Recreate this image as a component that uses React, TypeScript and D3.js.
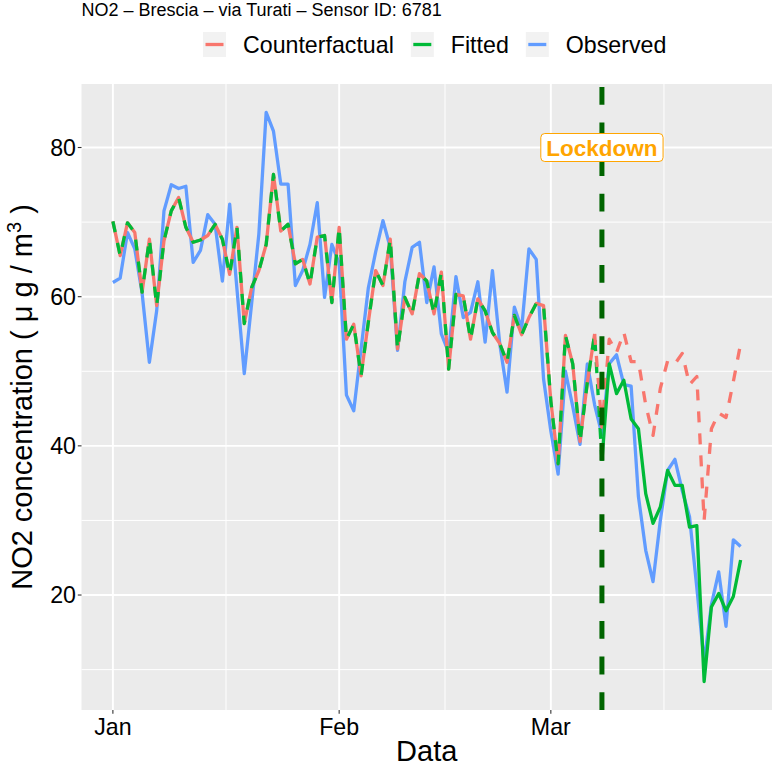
import React from 'react';
import * as d3 from 'd3';

// ---------------- DATA ----------------
const START_DATE = '2020-01-01';
const LOCKDOWN_DATE = '2020-03-08';
const LOCKDOWN_LABEL = 'Lockdown';
const LOCKDOWN_LABEL_VALUE = 80;

const observed = [
  61.9, 62.5, 68.6, 66.4, 60.5, 51.2, 58.1, 71.5, 75.0, 74.5,
  74.8, 64.6, 66.2, 71.0, 69.7, 62.1, 72.4, 61.0, 49.7, 59.0,
  68.4, 84.7, 82.2, 75.1, 75.1, 61.5, 63.5, 67.0, 72.6, 59.9,
  67.0, 64.5, 46.8, 44.7, 53.0, 61.2, 66.0, 70.2, 66.6, 52.8,
  62.0, 66.6, 67.3, 59.2, 64.0, 55.0, 52.5, 62.7, 57.2, 57.9,
  62.0, 53.9, 63.5, 53.7, 47.2, 58.6, 55.7, 66.4, 65.0, 49.0,
  42.0, 36.2, 50.0, 45.3, 40.2, 51.0, 45.5, 41.5, 51.0, 52.2,
  48.2, 48.0, 33.2, 26.0, 21.8, 30.0, 36.7, 38.2, 34.0, 30.5,
  21.0, 11.0, 18.7, 23.1, 15.8, 27.4, 26.5,
];

const fitted = [
  70.1, 65.5, 69.9, 68.6, 60.6, 67.7, 58.8, 67.5, 71.5, 73.3,
  69.3, 67.3, 67.6, 68.2, 69.7, 67.7, 63.0, 69.3, 56.4, 61.2,
  63.5, 67.0, 76.4, 68.8, 69.7, 64.4, 65.0, 61.7, 68.0, 68.2,
  59.2, 69.3, 54.3, 56.3, 49.4, 56.6, 63.5, 61.5, 67.7, 53.0,
  59.9, 57.7, 63.1, 62.1, 57.7, 63.3, 50.3, 60.3, 60.1, 54.3,
  59.7, 58.1, 55.2, 53.7, 51.2, 57.5, 54.9, 57.2, 59.1, 58.8,
  46.0, 37.6, 54.8, 51.0, 40.6, 48.5, 55.0,
  38.0, 51.0, 47.0, 48.8, 43.6, 42.3, 33.6, 29.6, 31.8, 36.7,
  34.7, 34.7, 29.1, 29.3, 8.4, 18.4, 20.2, 17.9, 19.8, 24.7,
];

const counterfactual = [
  70.1, 65.5, 69.9, 68.6, 60.6, 67.7, 58.8, 67.5, 71.5, 73.3,
  69.3, 67.3, 67.6, 68.2, 69.7, 67.7, 63.0, 69.3, 56.4, 61.2,
  63.5, 67.0, 76.4, 68.8, 69.7, 64.4, 65.0, 61.7, 68.0, 68.2,
  59.2, 69.3, 54.3, 56.3, 49.4, 56.6, 63.5, 61.5, 67.7, 53.0,
  59.9, 57.7, 63.1, 62.1, 57.7, 63.3, 50.3, 60.3, 60.1, 54.3,
  59.7, 58.1, 55.2, 53.7, 51.2, 57.5, 54.9, 57.2, 59.1, 58.8,
  46.0, 37.6, 54.8, 51.0, 40.6, 48.5, 55.0,
  42.5, 54.3, 52.5, 55.2, 51.3, 51.3, 45.5, 41.4, 47.7, 51.4,
  51.0, 52.4, 48.2, 49.3, 30.0, 42.3, 44.4, 43.8, 48.6, 53.7,
];

const yTickValues = [20, 40, 60, 80];
const yMinorValues = [10, 30, 50, 70];
const xTickDates = ['2020-01-01', '2020-02-01', '2020-03-01'];
const xTickLabels = ['Jan', 'Feb', 'Mar'];
const xMinorDates = ['2020-01-16T12:00:00Z', '2020-02-15T12:00:00Z', '2020-03-16T12:00:00Z'];

const seriesNames = ['Counterfactual', 'Fitted', 'Observed'];
const seriesColors = ['#F8766D', '#00BA38', '#619CFF'];

const TITLE = 'NO2 – Brescia – via Turati – Sensor ID: 6781';
const X_TITLE = 'Data';

// ---------------- LAYOUT ----------------
const W = 772;
const H = 767;
const P = { left: 81.5, right: 772, top: 84, bottom: 710 };
const FONT = "'Liberation Sans', Arial, Helvetica, sans-serif";
const LW = 3.3;
const DASH = '11 11';

function measure(text: string, size: number, weight = 'normal') {
  const c = document.createElement('canvas').getContext('2d');
  if (!c) return text.length * size * 0.5;
  c.font = `${weight} ${size}px ${FONT}`;
  return c.measureText(text).width;
}

export default function App() {
  const start = new Date(START_DATE + 'T00:00:00Z');
  const dates = observed.map((_, i) => d3.utcDay.offset(start, i));
  const lockDate = new Date(LOCKDOWN_DATE + 'T00:00:00Z');
  const lockIdx = dates.findIndex((d) => +d === +lockDate);

  const t0 = +dates[0];
  const t1 = +dates[dates.length - 1];
  const xp = (t1 - t0) * 0.05;
  const x = d3.scaleUtc().domain([new Date(t0 - xp), new Date(t1 + xp)]).range([P.left, P.right]);

  const all = [...observed, ...fitted, ...counterfactual];
  const [vmin, vmax] = d3.extent(all) as [number, number];
  const yp = (vmax - vmin) * 0.05;
  const y = d3.scaleLinear().domain([vmin - yp, vmax + yp]).range([P.bottom, P.top]);

  const line = d3
    .line<[Date, number]>()
    .x((d) => x(d[0]))
    .y((d) => y(d[1]));

  const pts = (arr: number[], a: number, b: number) =>
    arr.slice(a, b + 1).map((v, i) => [dates[a + i], v] as [Date, number]);

  const n = observed.length - 1;
  const obsPath = line(pts(observed, 0, n)) || '';
  const cfPre = line(pts(counterfactual, 0, lockIdx - 1)) || '';
  const cfPost = line(pts(counterfactual, lockIdx - 1, n)) || '';
  const fitPre = line(pts(fitted, 0, lockIdx)) || '';
  const fitPost = line(pts(fitted, lockIdx, n)) || '';

  const lx = x(lockDate);

  // legend
  const legendSize = 23.2;
  const keyW = 23;
  const keyH = 25;
  const gapKT = 17;
  const gapItems = 17;
  const widths = seriesNames.map((s) => measure(s, legendSize));
  const legendStart = 203;
  const legendItems: { kx: number; tx: number }[] = [];
  let cx = legendStart;
  seriesNames.forEach((_, i) => {
    legendItems.push({ kx: cx, tx: cx + keyW + gapKT });
    cx += keyW + gapKT + widths[i] + gapItems;
  });
  const legendCY = 44.5;

  // lockdown label
  const lblSize = 22.5;
  const lblW = measure(LOCKDOWN_LABEL, lblSize, 'bold');
  const lblPadX = 5.5;
  const lblH = 28;
  const lblY = y(LOCKDOWN_LABEL_VALUE);

  return (
    <svg
      width={W}
      height={H}
      viewBox={`0 0 ${W} ${H}`}
      style={{ position: 'absolute', left: 0, top: 0, background: '#fff' }}
      fontFamily={FONT}
    >
      {/* title */}
      <text x={P.left} y={16} fontSize={18} fill="#000">
        {TITLE}
      </text>

      {/* legend */}
      {seriesNames.map((s, i) => (
        <g key={s}>
          <rect
            x={legendItems[i].kx}
            y={legendCY - keyH / 2}
            width={keyW}
            height={keyH}
            fill="#F2F2F2"
          />
          <line
            x1={legendItems[i].kx + 2.5}
            x2={legendItems[i].kx + keyW - 2.5}
            y1={legendCY}
            y2={legendCY}
            stroke={seriesColors[i]}
            strokeWidth={LW}
          />
          <text x={legendItems[i].tx} y={legendCY + 8.3} fontSize={legendSize} fill="#000">
            {s}
          </text>
        </g>
      ))}

      {/* panel */}
      <rect x={P.left} y={P.top} width={P.right - P.left} height={P.bottom - P.top} fill="#EBEBEB" />
      {yMinorValues.map((v) => (
        <line key={'ym' + v} x1={P.left} x2={P.right} y1={y(v)} y2={y(v)} stroke="#fff" strokeWidth={1} />
      ))}
      {xMinorDates.map((d) => (
        <line
          key={'xm' + d}
          x1={x(new Date(d))}
          x2={x(new Date(d))}
          y1={P.top}
          y2={P.bottom}
          stroke="#fff"
          strokeWidth={1}
        />
      ))}
      {yTickValues.map((v) => (
        <line key={'y' + v} x1={P.left} x2={P.right} y1={y(v)} y2={y(v)} stroke="#fff" strokeWidth={1.9} />
      ))}
      {xTickDates.map((d) => (
        <line
          key={'x' + d}
          x1={x(new Date(d + 'T00:00:00Z'))}
          x2={x(new Date(d + 'T00:00:00Z'))}
          y1={P.top}
          y2={P.bottom}
          stroke="#fff"
          strokeWidth={1.9}
        />
      ))}

      {/* series */}
      <g fill="none" strokeLinejoin="round">
        <path d={obsPath} stroke={seriesColors[2]} strokeWidth={LW} />
        <path d={cfPre} stroke={seriesColors[0]} strokeWidth={LW} />
        <path d={fitPre} stroke={seriesColors[1]} strokeWidth={LW} strokeDasharray={DASH} />
        <path d={cfPost} stroke={seriesColors[0]} strokeWidth={LW} strokeDasharray={DASH} />
        <path d={fitPost} stroke={seriesColors[1]} strokeWidth={LW} />
      </g>

      {/* lockdown line */}
      <line
        x1={lx}
        x2={lx}
        y1={P.bottom}
        y2={P.top}
        stroke="#006400"
        strokeWidth={5}
        strokeDasharray="17.8 17.8"
      />
      <rect
        x={lx - lblW / 2 - lblPadX}
        y={lblY - lblH / 2}
        width={lblW + lblPadX * 2}
        height={lblH}
        rx={4}
        fill="#fff"
        stroke="#FFA500"
        strokeWidth={1}
      />
      <text
        x={lx}
        y={lblY + 8}
        textAnchor="middle"
        fontSize={lblSize}
        fontWeight="bold"
        fill="#FFA500"
      >
        {LOCKDOWN_LABEL}
      </text>

      {/* y axis */}
      {yTickValues.map((v) => (
        <g key={'yt' + v}>
          <line x1={P.left - 3.7} x2={P.left} y1={y(v)} y2={y(v)} stroke="#333" strokeWidth={1.1} />
          <text x={P.left - 5.5} y={y(v) + 8.2} textAnchor="end" fontSize={23.2} fill="#000">
            {v}
          </text>
        </g>
      ))}
      {/* x axis */}
      {xTickDates.map((d, i) => {
        const xx = x(new Date(d + 'T00:00:00Z'));
        return (
          <g key={'xt' + d}>
            <line x1={xx} x2={xx} y1={P.bottom} y2={P.bottom + 3.7} stroke="#333" strokeWidth={1.1} />
            <text x={xx} y={735} textAnchor="middle" fontSize={23.2} fill="#000">
              {xTickLabels[i]}
            </text>
          </g>
        );
      })}

      {/* axis titles */}
      <text x={(P.left + P.right) / 2} y={761} textAnchor="middle" fontSize={29} fill="#000">
        {X_TITLE}
      </text>
      <text
        transform={`translate(32, ${(P.top + P.bottom) / 2}) rotate(-90)`}
        textAnchor="middle"
        fontSize={29}
        fill="#000"
      >
        NO2 concentration ( μ g / m<tspan dy={-11} fontSize={20}>3</tspan>
        <tspan dy={11}> )</tspan>
      </text>
    </svg>
  );
}
